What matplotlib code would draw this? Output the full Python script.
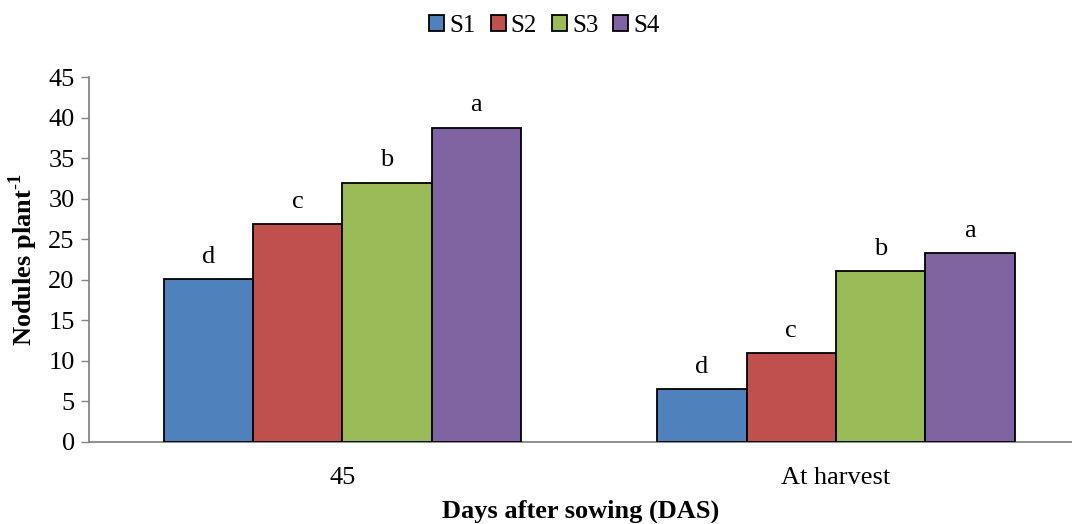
import matplotlib
matplotlib.use("Agg")
import matplotlib.pyplot as plt
import numpy as np

categories = ["45", "At harvest"]
series_names = ["S1", "S2", "S3", "S4"]
s1 = [20.1, 6.5]
s2 = [26.9, 11.0]
s3 = [32.0, 21.1]
s4 = [38.8, 23.3]
letters = [["d", "d"], ["c", "c"], ["b", "b"], ["a", "a"]]
colors = ["#4F81BD", "#C0504D", "#9BBB59", "#8064A2"]

plt.rcParams['font.family'] = ['Liberation Serif', 'DejaVu Serif']
plt.rcParams['mathtext.fontset'] = 'custom'
plt.rcParams['mathtext.rm'] = 'Liberation Serif'
plt.rcParams['mathtext.bf'] = 'Liberation Serif:bold'

FS = 19

fig = plt.figure(figsize=(10.72, 5.24), dpi=100)
ax = fig.add_axes([0.0826, 0.157, 0.9174, 0.6955])

x = np.arange(len(categories))
bw = 0.181
all_vals = [s1, s2, s3, s4]
for i, (vals, name, col) in enumerate(zip(all_vals, series_names, colors)):
    pos = x + (i - 1.5) * bw
    ax.bar(pos, vals, width=bw, color=col, edgecolor="black", linewidth=1.3, label=name, zorder=3)
    for p, v, lab in zip(pos, vals, letters[i]):
        ax.annotate(lab, (p, v), xytext=(0, 8), textcoords="offset points",
                    ha="center", va="bottom", fontsize=FS)

ax.set_xlim(-0.514, 1.478)
ax.set_ylim(0, 45)
ax.set_yticks(np.arange(0, 46, 5))
ax.set_xticks(x)
ax.set_xticklabels(categories)
ax.tick_params(axis="y", labelsize=FS, length=6, width=1, color="#868686", direction="out", pad=4)
ax.tick_params(axis="x", labelsize=FS, length=0, pad=18)
for s in ["top", "right"]:
    ax.spines[s].set_visible(False)
for s in ["left", "bottom"]:
    ax.spines[s].set_color("#868686")
    ax.spines[s].set_linewidth(1.3)

ax.set_ylabel(r"Nodules plant$^{\mathbf{\text{-}1}}$", fontsize=FS, fontweight="bold", labelpad=6)
ax.set_xlabel("Days after sowing (DAS)", fontsize=FS, fontweight="bold", labelpad=8)

fig.legend(loc="upper center", bbox_to_anchor=(0.508, 1.015), ncol=4, frameon=False,
           fontsize=18, handlelength=0.6, handleheight=0.6, handletextpad=0.2,
           columnspacing=0.6)

fig.savefig("out.png", dpi=100)
